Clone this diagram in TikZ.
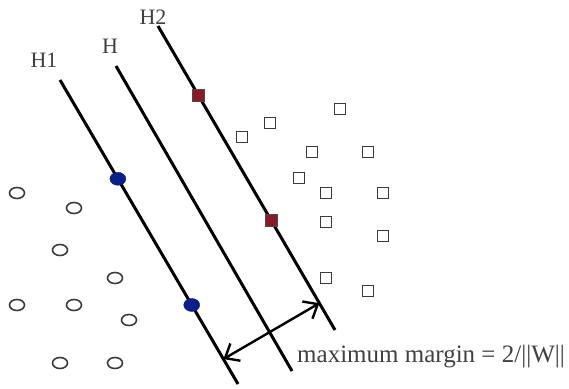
\documentclass[tikz,border=0pt]{standalone}
\usepackage{fontspec}
\setmainfont{Liberation Serif}
\usepackage{xcolor}
\usepackage{tikz}
\usetikzlibrary{arrows.meta,positioning,shapes.geometric,calc}
\definecolor{svblue}{HTML}{0B1F8A}
\definecolor{svred}{HTML}{8A1A26}
\definecolor{ptgray}{HTML}{3A3A3A}

\begin{document}
\begin{tikzpicture}[
  x=1pt, y=-1pt,
  negpt/.style ={draw=ptgray, line width=1.6pt, ellipse, minimum width=15pt, minimum height=11pt, inner sep=0pt},
  pospt/.style ={draw=ptgray, line width=1.6pt, rectangle, minimum size=11pt, inner sep=0pt},
  negsv/.style ={fill=svblue, draw=svblue, ellipse, minimum width=16pt, minimum height=13pt, inner sep=0pt},
  possv/.style ={fill=svred, draw=black!70, line width=0.8pt, rectangle, minimum size=12pt, inner sep=0pt},
  hplane/.style={line width=3pt, black},
  lbl/.style   ={text=black!75, font=\fontsize{22}{22}\selectfont, inner sep=0pt},
  margin/.style={{Straight Barb[length=12pt,width=20pt]}-{Straight Barb[length=12pt,width=20pt]}, line width=2.4pt},
]
  \useasboundingbox (0,0) rectangle (569,388);

  % hyperplanes
  \coordinate (h1a) at (60,80);   \coordinate (h1b) at (238,384);
  \coordinate (ha)  at (116,66);  \coordinate (hb)  at (292,371);
  \coordinate (h2a) at (158,26);  \coordinate (h2b) at (335,330);
  \draw[hplane] (h1a) -- (h1b);
  \draw[hplane] (ha)  -- (hb);
  \draw[hplane] (h2a) -- (h2b);

  \node[lbl] (lh1) at (44,60) {H1};
  \node[lbl] (lh)  at (110,46) {H};
  \node[lbl] (lh2) at (153,17) {H2};

  % class o
  \node[negpt] (c1) at (17,193)  {};
  \node[negpt] (c2) at (74,208)  {};
  \node[negpt] (c3) at (60,250)  {};
  \node[negpt] (c4) at (115,278) {};
  \node[negpt] (c5) at (17,305)  {};
  \node[negpt] (c6) at (74,305)  {};
  \node[negpt] (c7) at (129,320) {};
  \node[negpt] (c8) at (60,363)  {};
  \node[negpt] (c9) at (115,363) {};

  % class []
  \node[pospt] (s1)  at (340,109) {};
  \node[pospt] (s2)  at (270,123) {};
  \node[pospt] (s3)  at (242,137) {};
  \node[pospt] (s4)  at (312,152) {};
  \node[pospt] (s5)  at (368,152) {};
  \node[pospt] (s6)  at (299,178) {};
  \node[pospt] (s7)  at (326,193) {};
  \node[pospt] (s8)  at (383,193) {};
  \node[pospt] (s9)  at (326,222) {};
  \node[pospt] (s10) at (383,236) {};
  \node[pospt] (s11) at (326,278) {};
  \node[pospt] (s12) at (368,291) {};

  % support vectors
  \node[negsv] (sv1) at ($(h1a)!0.325!(h1b)$) {};
  \node[negsv] (sv2) at ($(h1a)!0.740!(h1b)$) {};
  \node[possv] (sv3) at ($(h2a)!0.227!(h2b)$) {};
  \node[possv] (sv4) at ($(h2a)!0.641!(h2b)$) {};

  % margin
  \coordinate (m1) at ($(h1a)!0.918!(h1b)$);
  \coordinate (m2) at ($(h2a)!(m1)!(h2b)$);
  \draw[margin] (m1) -- (m2);
  \node[lbl, anchor=west, font=\fontsize{25}{25}\selectfont] (mtext) at (297,357) {maximum margin = 2/||W||};
\end{tikzpicture}
\end{document}
